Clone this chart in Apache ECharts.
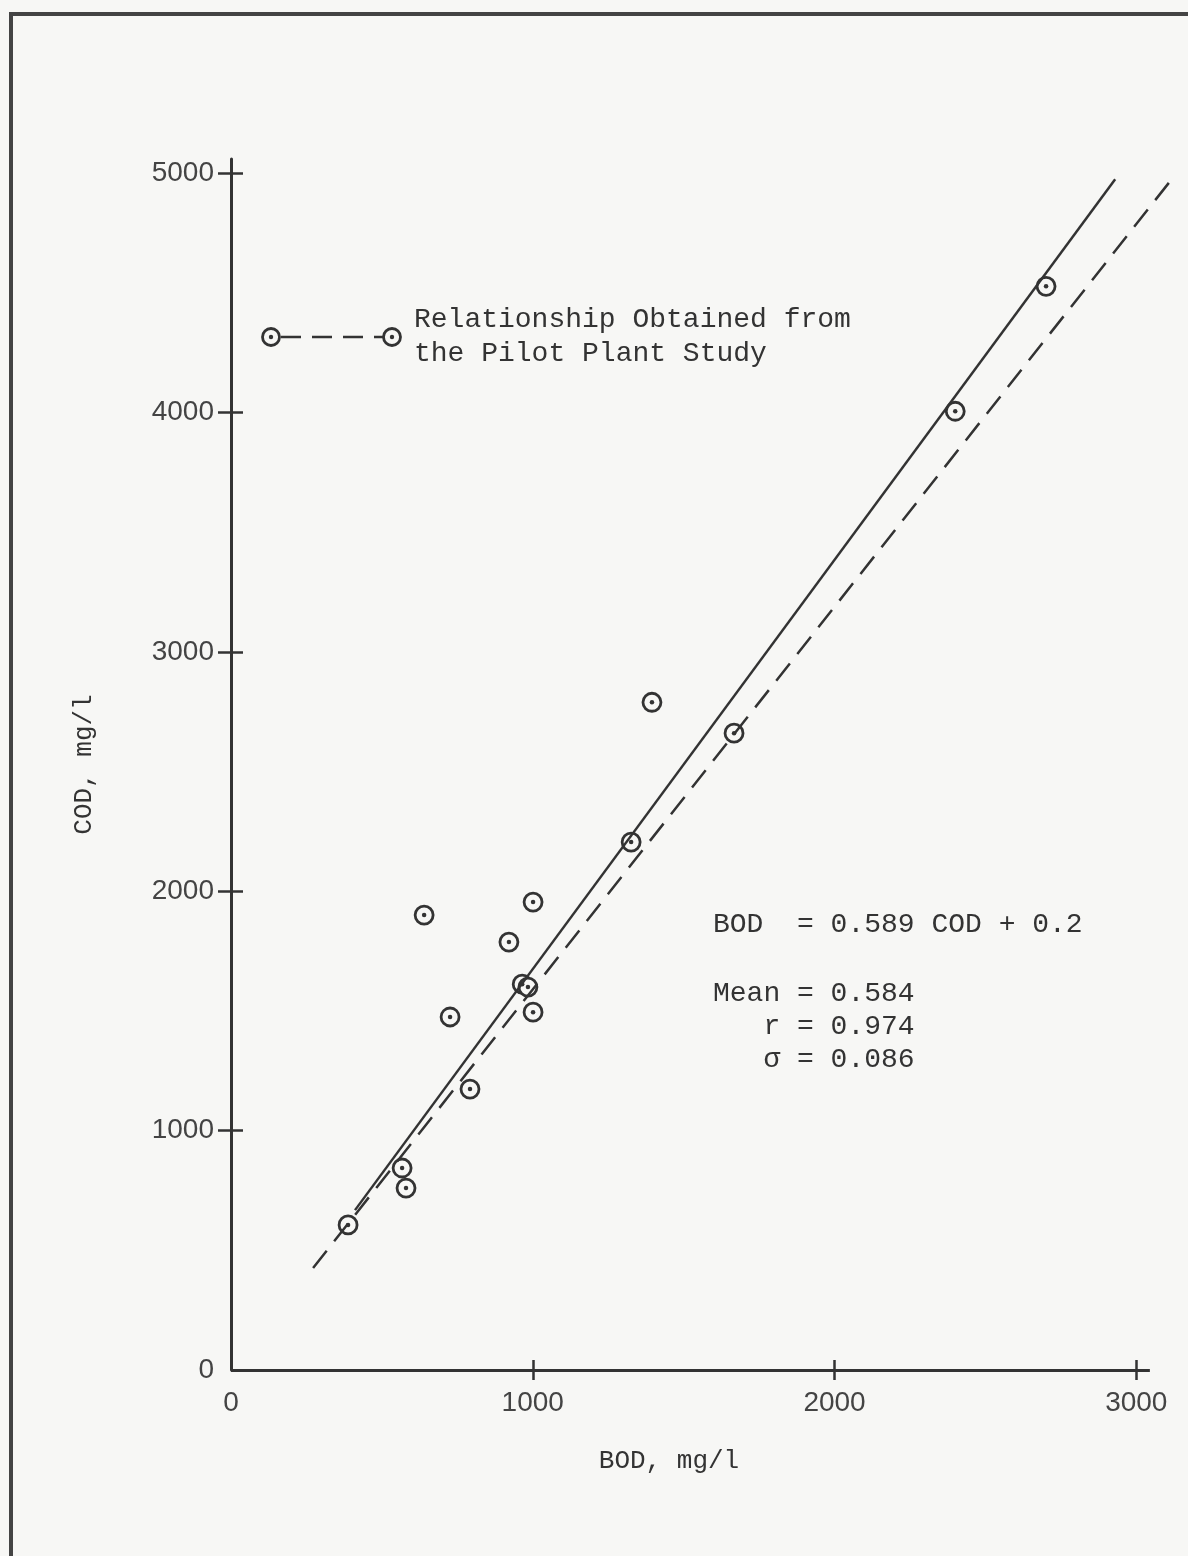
<!DOCTYPE html>
<html>
<head>
<meta charset="utf-8">
<style>
	html,body{margin:0;padding:0;background:#f7f7f5;}
	#main{width:1188px;height:1556px;}
</style>
<script src="https://cdn.jsdelivr.net/npm/echarts@6/dist/echarts.min.js"></script>
</head>
<body>
<div id="main"></div>
<script>
// data
var bod = [388, 567, 580, 640, 726, 792, 921, 965, 984, 1001, 1001, 1326, 1395, 1667, 2400, 2701];
var cod = [606, 844, 760, 1901, 1475, 1174, 1788, 1612, 1600, 1955, 1495, 2206, 2790, 2661, 4006, 4528];
var fitLine = [[411, 668], [2930, 4975]];     // solid line
var pilotLine = [[272, 426], [3112, 4967]];   // dashed, pilot plant
var xAxisEnd = 3045;                          // x axis line stops a bit past 3000
var xLabels = [0, 1000, 2000, 3000];
var xTicks = [1000, 2000, 3000];
var yLabels = [0, 1000, 2000, 3000, 4000, 5000];
var yTicks = [1000, 2000, 3000, 4000, 5000];
var notes = ['BOD  = 0.589 COD + 0.2', 'Mean = 0.584', '   r = 0.974', '   σ = 0.086'];

var ink = '#333';
var paper = '#f7f7f5';
var mono = '"Liberation Mono", "DejaVu Sans Mono", monospace';
var sans = '"Liberation Sans", Arial, sans-serif';

var points = [];
for (var i = 0; i < bod.length; i++) {
	points.push([bod[i], cod[i]]);
}

function plain(v) {
	return String(v);
}

var myChart = echarts.init(document.getElementById('main'));
// x range is wide enough for the dashed line, the visible axis line is a markLine
var xBase = {
	type: 'value',
	min: 0,
	max: 3115,
	splitLine: {show: false}
};
var yBase = {
	type: 'value',
	min: 0,
	max: 5060,
	splitLine: {show: false}
};

option = {
	backgroundColor: paper,
	animation: false,
	grid: {left: 231, right: 17, top: 159, bottom: 186},
	xAxis: [
		echarts.util.merge({
			name: 'BOD, mg/l',
			nameLocation: 'middle',
			nameGap: 78,
			nameTextStyle: {fontFamily: mono, fontSize: 26, color: ink, padding: [0, 0, 0, -64]},
			axisLine: {show: false},
			axisTick: {length: 10, customValues: xTicks, lineStyle: {color: ink, width: 2.5}},
			axisLabel: {customValues: xLabels, formatter: plain, margin: 19, fontFamily: sans, fontSize: 28, color: '#444'}
		}, xBase, true),
		echarts.util.merge({
			position: 'bottom',
			axisLine: {show: false},
			axisTick: {inside: true, length: 10, customValues: xTicks, lineStyle: {color: ink, width: 2.5}},
			axisLabel: {show: false}
		}, xBase, true)
	],
	yAxis: [
		echarts.util.merge({
			name: 'COD, mg/l',
			nameLocation: 'middle',
			nameGap: 134,
			nameTextStyle: {fontFamily: mono, fontSize: 26, color: ink},
			axisLine: {lineStyle: {color: ink, width: 3}},
			axisTick: {length: 13, customValues: yTicks, lineStyle: {color: ink, width: 2.5}},
			axisLabel: {customValues: yLabels, formatter: plain, margin: 17, fontFamily: sans, fontSize: 28, color: '#444'}
		}, yBase, true),
		echarts.util.merge({
			position: 'left',
			axisLine: {show: false},
			axisTick: {inside: true, length: 12, customValues: yTicks, lineStyle: {color: ink, width: 2.5}},
			axisLabel: {show: false}
		}, yBase, true)
	],
	series: [
		{
			name: 'fit',
			type: 'line',
			data: fitLine,
			symbol: 'none',
			lineStyle: {color: ink, width: 2.5},
			markLine: {
				silent: true,
				symbol: 'none',
				label: {show: false},
				lineStyle: {color: ink, width: 3, type: 'solid'},
				data: [[{coord: [0, 0]}, {coord: [xAxisEnd, 0]}]]
			}
		},
		{
			name: 'pilot',
			type: 'line',
			data: pilotLine,
			symbol: 'none',
			lineStyle: {color: ink, width: 2.5, type: [22, 12]}
		},
		{
			name: 'ring',
			type: 'scatter',
			data: points,
			symbol: 'circle',
			symbolSize: 18,
			itemStyle: {color: paper, borderColor: ink, borderWidth: 2.8, opacity: 1}
		},
		{
			name: 'dot',
			type: 'scatter',
			data: points,
			symbol: 'circle',
			symbolSize: 4.5,
			itemStyle: {color: ink, opacity: 1}
		}
	],
	graphic: [
		// frame
		{type: 'line', shape: {x1: 11, y1: 14, x2: 1188, y2: 14}, style: {stroke: '#444', lineWidth: 4}},
		{type: 'line', shape: {x1: 11, y1: 12, x2: 11, y2: 1556}, style: {stroke: '#444', lineWidth: 4}},
		// legend
		{type: 'line', shape: {x1: 271, y1: 337, x2: 392, y2: 337}, style: {stroke: ink, lineWidth: 2.5, lineDash: [20, 11], lineDashOffset: -10}},
		{type: 'circle', shape: {cx: 271, cy: 337, r: 8.5}, style: {fill: paper, stroke: ink, lineWidth: 2.8}},
		{type: 'circle', shape: {cx: 271, cy: 337, r: 2.2}, style: {fill: ink}},
		{type: 'circle', shape: {cx: 392, cy: 337, r: 8.5}, style: {fill: paper, stroke: ink, lineWidth: 2.8}},
		{type: 'circle', shape: {cx: 392, cy: 337, r: 2.2}, style: {fill: ink}},
		{type: 'text', left: 414, top: 303, style: {text: 'Relationship Obtained from\nthe Pilot Plant Study', font: '28px ' + mono, fill: ink, lineHeight: 34}},
		// equation block
		{type: 'text', left: 713, top: 911, style: {text: notes[0], font: '28px ' + mono, fill: ink}},
		{type: 'text', left: 713, top: 977, style: {text: notes.slice(1).join('\n'), font: '28px ' + mono, fill: ink, lineHeight: 33}}
	]
};
myChart.setOption(option);
</script>
</body>
</html>
